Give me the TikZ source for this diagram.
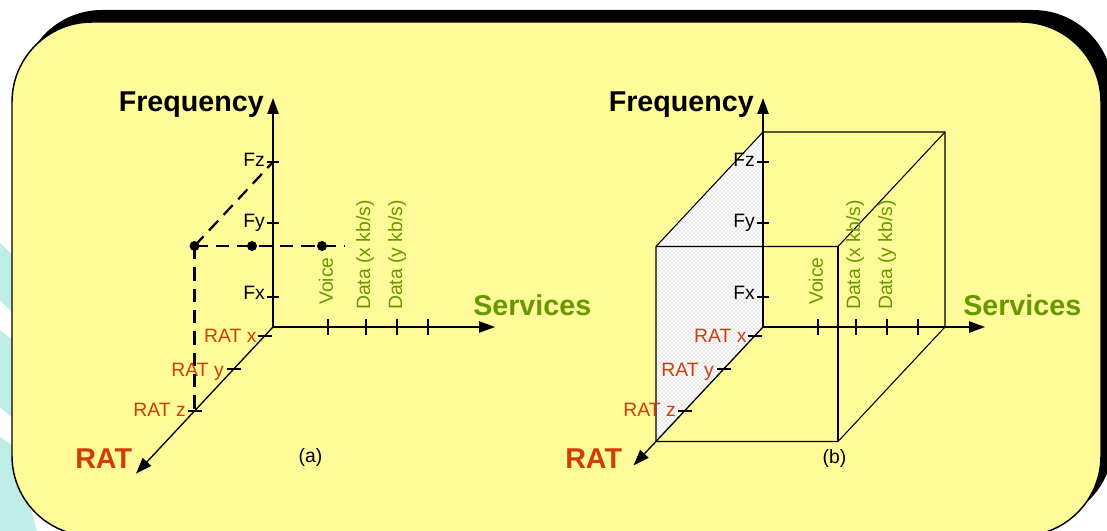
\documentclass[tikz,border=0pt]{standalone}
\usepackage{fontspec}
\setmainfont{Liberation Sans}
\usetikzlibrary{arrows.meta,patterns}
\definecolor{Slide}{HTML}{FFFB99}
\definecolor{RatRed}{HTML}{D23C0A}
\definecolor{SvcGreen}{HTML}{669900}
\definecolor{Swoosh}{HTML}{BFEDE8}

\begin{document}
\begin{tikzpicture}[x=.75pt,y=-.75pt,
    axisline/.style={line width=1pt,-{Triangle[length=12pt,width=8.5pt]}},
    tickmark/.style={line width=1.1pt},
    guide/.style={line width=1.7pt,dash pattern=on 10pt off 6pt},
    cubeedge/.style={line width=.8pt},
    biglabel/.style={font=\fontsize{21.5}{21.5}\selectfont\bfseries,inner sep=0pt},
    smalllabel/.style={font=\fontsize{14.5}{14.5}\selectfont,inner sep=0pt},
    ratlabel/.style={smalllabel,text=RatRed,anchor=base east},
    servlabel/.style={smalllabel,text=SvcGreen,rotate=90,anchor=west},
    dotmark/.style={circle,fill=black,inner sep=0pt,minimum size=7.5pt}]
  \useasboundingbox (0,0) rectangle (1107,531);
  \clip (0,0) rectangle (1107,531);
  \fill[white] (0,0) rectangle (1107,531);
  % swooshes behind the slide
  \fill[Swoosh] (0,243) -- (60,303) -- (60,360) -- (0,300) -- cycle;
  \fill[Swoosh] (0,330) -- (60,380) -- (60,460) -- (0,407) -- cycle;
  \fill[Swoosh] (0,437) -- (12,445) -- (37,531) -- (0,531) -- cycle;
  % slide with shadow
  \fill[black,rounded corners=60pt] (22,10) rectangle (1113,523);
  \draw[fill=Slide,line width=1.1pt,rounded corners=60pt] (12,22) rectangle (1101,536);

  % (a)
  \begin{scope}[shift={(273,327)}]
    \coordinate (a-o) at (0,0);
    \coordinate (a-f) at (0,-229);
    \coordinate (a-s) at (222,0);
    \coordinate (a-r) at (-137,146.6);
    \coordinate (a-p) at (-78.5,-81);
    \coordinate (a-fz) at (0,-165);
    \coordinate (a-rz) at (-78.5,84);
    \coordinate (a-e) at (72,-81);
    \draw[guide] (a-p) -- (a-fz);
    \draw[guide] (a-p) -- (a-rz);
    \draw[guide] (a-p) -- (a-e);
    \node[dotmark] (a-d1) at (a-p) {};
    \node[dotmark] (a-d2) at (-21,-81) {};
    \node[dotmark] (a-d3) at (49,-81) {};
    \draw[axisline] (a-o) -- (a-f);
    \draw[axisline] (a-o) -- (a-s);
    \draw[axisline] (a-o) -- (a-r);
    \draw[tickmark] (-6,-165) -- (6,-165);
    \draw[tickmark] (-6,-104) -- (6,-104);
    \draw[tickmark] (-6,-30) -- (6,-30);
    \draw[tickmark] (55,-8) -- (55,8);
    \draw[tickmark] (93,-8) -- (93,8);
    \draw[tickmark] (124,-8) -- (124,8);
    \draw[tickmark] (155,-8) -- (155,8);
    \draw[tickmark] (-15.4,9) -- (-1.4,9);
    \draw[tickmark] (-46.2,42) -- (-32.2,42);
    \draw[tickmark] (-85.5,84) -- (-71.5,84);
    \node[smalllabel,anchor=base east] (a-lfz) at (-8,-160) {Fz};
    \node[smalllabel,anchor=base east] (a-lfy) at (-8,-99) {Fy};
    \node[smalllabel,anchor=base east] (a-lfx) at (-8,-28) {Fx};
    \node[ratlabel] (a-lrx) at (-16.3,15.7) {RAT x};
    \node[ratlabel] (a-lry) at (-49,49) {RAT y};
    \node[ratlabel] (a-lrz) at (-87,89) {RAT z};
    \node[servlabel] (a-voice) at (53,-22) {Voice};
    \node[servlabel] (a-datax) at (92,-17) {Data (x kb/s)};
    \node[servlabel] (a-datay) at (124,-17) {Data (y kb/s)};
    \node[biglabel,anchor=base east] (a-freq) at (-9,-215) {Frequency};
    \node[biglabel,anchor=base west,text=SvcGreen] (a-serv) at (200,-12) {Services};
    \node[biglabel,anchor=base west,text=RatRed] (a-rat) at (-198,141) {RAT};
    \node[smalllabel] (a-cap) at (37.5,130.5) {(a)};
  \end{scope}

  % (b)
  \begin{scope}[shift={(763,327)}]
    \coordinate (b-o) at (0,0);
    \coordinate (b-f) at (0,-229);
    \coordinate (b-s) at (222,0);
    \coordinate (b-r) at (-129.5,138.5);
    \coordinate (b-btl) at (0,-195);
    \coordinate (b-btr) at (182,-195);
    \coordinate (b-bbr) at (182,0);
    \coordinate (b-ftl) at (-107,-80.5);
    \coordinate (b-ftr) at (75,-80.5);
    \coordinate (b-fbr) at (75,114.5);
    \coordinate (b-fbl) at (-107,114.5);
    \fill[white] (b-o) -- (b-btl) -- (b-ftl) -- (b-fbl) -- cycle;
    \fill[pattern=crosshatch dots,pattern color=gray!70] (b-o) -- (b-btl) -- (b-ftl) -- (b-fbl) -- cycle;
    \draw[cubeedge] (b-fbl) -- (b-ftl) -- (b-btl) -- (b-btr) -- (b-bbr) -- (b-fbr) -- (b-fbl);
    \draw[cubeedge] (b-ftl) -- (b-ftr) -- (b-btr);
    \draw[line width=1.4pt] (b-ftr) -- (b-fbr);
    \draw[axisline] (b-o) -- (b-f);
    \draw[axisline] (b-o) -- (b-s);
    \draw[axisline] (b-o) -- (b-r);
    \draw[tickmark] (-6,-165) -- (6,-165);
    \draw[tickmark] (-6,-104) -- (6,-104);
    \draw[tickmark] (-6,-30) -- (6,-30);
    \draw[tickmark] (55,-8) -- (55,8);
    \draw[tickmark] (93,-8) -- (93,8);
    \draw[tickmark] (124,-8) -- (124,8);
    \draw[tickmark] (155,-8) -- (155,8);
    \draw[tickmark] (-15.4,9) -- (-1.4,9);
    \draw[tickmark] (-46.2,42) -- (-32.2,42);
    \draw[tickmark] (-85.5,84) -- (-71.5,84);
    \node[smalllabel,anchor=base east] (b-lfz) at (-8,-160) {Fz};
    \node[smalllabel,anchor=base east] (b-lfy) at (-8,-99) {Fy};
    \node[smalllabel,anchor=base east] (b-lfx) at (-8,-28) {Fx};
    \node[ratlabel] (b-lrx) at (-16.3,15.7) {RAT x};
    \node[ratlabel] (b-lry) at (-49,49) {RAT y};
    \node[ratlabel] (b-lrz) at (-87,89) {RAT z};
    \node[servlabel] (b-voice) at (53,-22) {Voice};
    \node[servlabel] (b-datax) at (92,-17) {Data (x kb/s)};
    \node[servlabel] (b-datay) at (124,-17) {Data (y kb/s)};
    \node[biglabel,anchor=base east] (b-freq) at (-9,-215) {Frequency};
    \node[biglabel,anchor=base west,text=SvcGreen] (b-serv) at (200,-12) {Services};
    \node[biglabel,anchor=base west,text=RatRed] (b-rat) at (-198,141) {RAT};
    \node[smalllabel] (b-cap) at (71.5,131) {(b)};
  \end{scope}
\end{tikzpicture}
\end{document}
